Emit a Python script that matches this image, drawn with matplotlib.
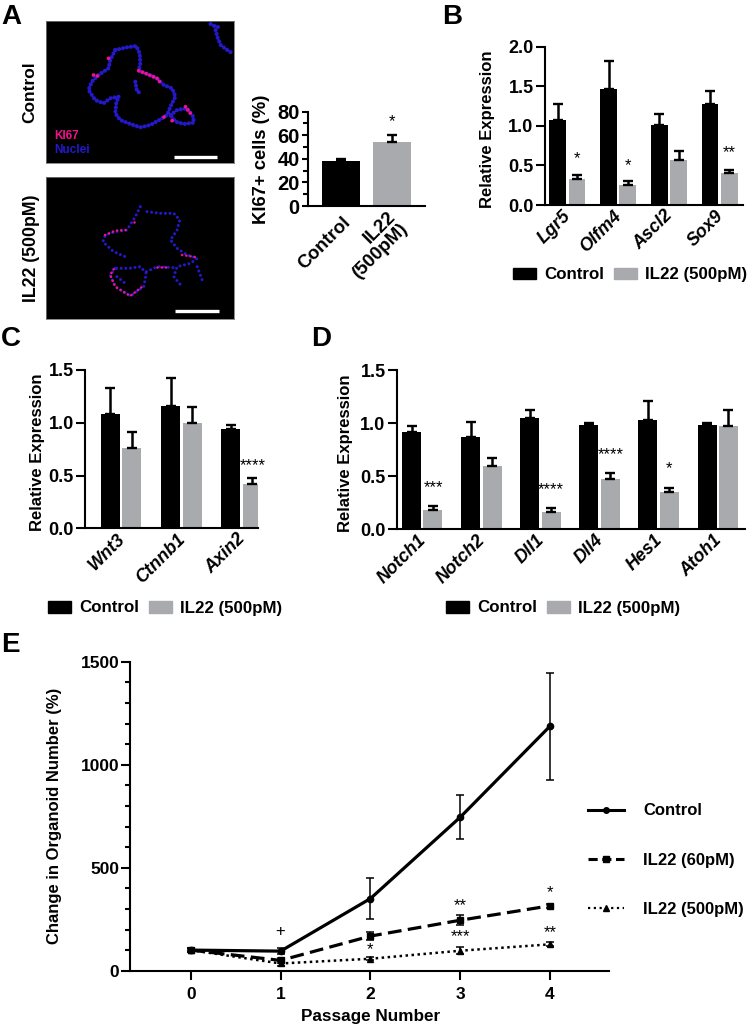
import matplotlib
matplotlib.use('Agg')
import matplotlib.pyplot as plt
from matplotlib.patches import Rectangle
from matplotlib.lines import Line2D
from matplotlib.transforms import ScaledTranslation

W, H = 748, 1028
BLACK = '#000000'
GREY = '#a9aaad'
BLUE = '#2418c8'
PINK = '#f0128c'

plt.rcParams['font.family'] = ['Liberation Sans', 'DejaVu Sans']
plt.rcParams['font.weight'] = 'bold'
plt.rcParams['font.size'] = 12
plt.rcParams['axes.labelweight'] = 'bold'

# panel A bars
a_labels = ['Control', 'IL22\n(500pM)']
a_means = [38, 54]
a_tops = [40, 60]

# panel B
b_genes = ['Lgr5', 'Olfm4', 'Ascl2', 'Sox9']
b_ctrl = [1.08, 1.46, 1.01, 1.28]
b_ctrl_top = [1.27, 1.82, 1.15, 1.44]
b_il22 = [0.33, 0.25, 0.57, 0.40]
b_il22_top = [0.38, 0.30, 0.68, 0.44]
b_stars = ['*', '*', '', '**']
b_star_y = [0.58, 0.50, 0, 0.66]

# panel C
c_genes = ['Wnt3', 'Ctnnb1', 'Axin2']
c_ctrl = [1.08, 1.16, 0.94]
c_ctrl_top = [1.33, 1.42, 0.98]
c_il22 = [0.76, 1.00, 0.42]
c_il22_top = [0.91, 1.15, 0.48]
c_stars = ['', '', '****']
c_star_y = [0, 0, 0.595]

# panel D
d_genes = ['Notch1', 'Notch2', 'Dll1', 'Dll4', 'Hes1', 'Atoh1']
d_ctrl = [0.92, 0.87, 1.05, 0.98, 1.03, 0.98]
d_ctrl_top = [0.97, 1.01, 1.13, 1.00, 1.21, 1.00]
d_il22 = [0.18, 0.60, 0.16, 0.47, 0.35, 0.97]
d_il22_top = [0.22, 0.67, 0.20, 0.53, 0.39, 1.13]
d_stars = ['***', '', '****', '****', '*', '']
d_star_y = [0.39, 0, 0.375, 0.70, 0.57, 0]

# panel E
passages = [0, 1, 2, 3, 4]
e_ctrl = [100, 95, 350, 745, 1187]
e_ctrl_lo = [95, 80, 253, 640, 925]
e_ctrl_hi = [105, 110, 450, 855, 1445]
e_60 = [100, 50, 168, 245, 315]
e_60_lo = [92, 38, 148, 222, 305]
e_60_hi = [108, 62, 188, 268, 325]
e_500 = [100, 35, 58, 97, 128]
e_500_lo = [92, 22, 50, 80, 118]
e_500_hi = [108, 48, 66, 114, 138]
e_marks = ['+', '*', '**', '***', '*', '**']
e_mark_x = [1, 2, 3, 3, 4, 4]
e_mark_y = [188, 104, 318, 164, 381, 183]

# microscopy outlines, in 3x crop pixels of the image
ctrl_blue = [
    [(345, 150), (380, 142), (408, 138), (418, 160), (420, 190), (415, 212), (440, 222), (470, 235), (490, 255),
     (515, 265), (525, 290), (510, 320), (500, 345), (480, 358), (450, 375), (420, 382), (390, 372), (360, 360),
     (345, 340), (348, 310), (355, 290)],
    [(345, 150), (330, 180), (325, 205), (295, 225), (275, 245), (265, 270), (285, 300), (310, 310), (330, 295),
     (355, 290)],
    [(510, 345), (530, 330), (560, 325), (578, 350), (580, 368), (550, 372), (525, 365), (510, 345)],
    [(405, 245), (410, 275), (425, 280)],
    [(630, 72), (645, 80), (660, 82)],
    [(645, 90), (650, 110), (660, 135), (680, 150), (695, 160)],
]
ctrl_pink = [
    [(415, 212), (440, 222), (470, 235), (480, 248)],
    [(280, 225), (300, 230)],
    [(325, 175), (335, 180)],
    [(555, 320), (565, 335), (575, 345)],
    [(490, 352), (500, 352)],
    [(515, 362), (518, 365)],
]
il22_blue = [
    [(420, 620), (405, 650), (380, 690), (345, 695), (315, 705), (308, 725), (340, 755), (375, 770)],
    [(440, 635), (480, 640), (520, 640), (538, 660), (530, 690), (510, 720), (530, 745), (560, 765), (590, 775),
     (570, 790), (530, 800), (520, 830), (545, 860)],
    [(590, 800), (605, 840)],
    [(345, 805), (330, 825), (345, 860), (390, 888), (430, 860), (438, 820), (420, 800), (385, 805), (345, 805)],
    [(438, 815), (470, 800), (520, 803)],
    [(350, 830), (375, 850)],
]
il22_pink = [
    [(315, 705), (345, 692), (380, 690)],
    [(340, 808), (330, 825), (345, 860), (390, 888), (432, 855)],
    [(545, 765), (590, 772)],
    [(470, 802), (500, 802)],
    [(400, 665), (403, 665)],
]


def add_ax(left, top, right, bottom):
    return fig.add_axes([left / W, 1 - bottom / H, (right - left) / W, (bottom - top) / H])


def style(ax, labelsize=13):
    ax.patch.set_alpha(0)
    for s in ['top', 'right']:
        ax.spines[s].set_visible(False)
    for s in ['left', 'bottom']:
        ax.spines[s].set_linewidth(1.5)
    ax.tick_params(axis='both', width=1.5, length=6.5, pad=1.5, labelsize=labelsize)
    ax.tick_params(axis='y', which='minor', width=1.5, length=3.5)


def shift_labels(ax, px):
    for lbl in ax.get_xticklabels():
        lbl.set_transform(lbl.get_transform() + ScaledTranslation(px / 100, 0, fig.dpi_scale_trans))


def grouped(left, top, right, bottom, first, pitch, bw, genes, ctrl, ctrl_top, il22, il22_top, stars, star_y, ymax,
            step, label_x):
    # first = pixel centre of group 0, pitch = pixels between groups
    ax = add_ax(left, top, right, bottom)
    style(ax)
    w = bw / pitch
    off = (bw + 2.4) / pitch / 2
    xs = list(range(len(genes)))
    ax.bar([x - off for x in xs], ctrl, w, color=BLACK)
    ax.bar([x + off for x in xs], il22, w, color=GREY)
    for x, m, t in zip([x - off for x in xs] + [x + off for x in xs], ctrl + il22, ctrl_top + il22_top):
        ax.errorbar(x, m, yerr=[[0], [t - m]], color=BLACK, capsize=3.4, capthick=1.7, elinewidth=1.8)
    for x, s, y in zip(xs, stars, star_y):
        if s:
            ax.text(x + off, y, s, ha='center', va='center', fontsize=12, fontweight='normal')
    ax.set_xlim((left - first) / pitch, (right - first) / pitch)
    ax.set_ylim(0, ymax)
    ax.set_yticks([i * step for i in range(int(ymax / step) + 1)])
    ax.set_yticklabels(['%.1f' % (i * step) for i in range(int(ymax / step) + 1)])
    ax.set_xticks(xs)
    ax.set_xticklabels(genes, rotation=45, ha='right', va='center', rotation_mode='anchor', style='italic')
    ax.tick_params(axis='x', length=0, pad=6)
    shift_labels(ax, 1)
    ax.set_ylabel('Relative Expression')
    ax.yaxis.set_label_coords((label_x - left) / (right - left), 0.48)
    return ax


def bar_legend(x, y):
    # x, y = pixel position of the left middle of the legend
    handles = [Rectangle((0, 0), 1, 1, color=BLACK), Rectangle((0, 0), 1, 1, color=GREY)]
    fig.legend(handles, ['Control', 'IL22 (500pM)'], loc='center left', bbox_to_anchor=(x / W, 1 - y / H), ncol=2,
               frameon=False, handlelength=1.35, handleheight=0.7, handletextpad=0.5, columnspacing=0.55,
               borderpad=0, borderaxespad=0, fontsize=12.2)


def micrograph(top, bottom, blue, pink, bar_x, bar_y, lw, gap):
    ax = add_ax(46, top, 234, bottom)
    ax.set_facecolor('black')
    ax.set_xlim(138, 700)
    ax.set_ylim(3 * bottom, 3 * top)
    ax.set_xticks([])
    ax.set_yticks([])
    for s in ax.spines.values():
        s.set_color('#777777')
        s.set_linewidth(0.6)
    for seg in blue:
        ax.plot([p[0] for p in seg], [p[1] for p in seg], color=BLUE, lw=lw, ls=(0, (0.01, gap)),
                dash_capstyle='round')
    for seg in pink:
        ax.plot([p[0] for p in seg], [p[1] for p in seg], color=PINK, lw=lw - 0.3, ls=(0, (0.01, gap + 0.1)),
                dash_capstyle='round')
    ax.plot(bar_x, [bar_y, bar_y], color='white', lw=2.4, solid_capstyle='butt')
    return ax


fig = plt.figure(figsize=(W / 100, H / 100), dpi=100)

# A
ax = micrograph(21, 163, ctrl_blue, ctrl_pink, [520, 650], 471, 3.0, 0.95)
ax.text(163, 408, 'KI67', color=PINK, fontsize=8.5, va='center')
ax.text(163, 451, 'Nuclei', color=BLUE, fontsize=8.5, va='center')
micrograph(177, 319, il22_blue, il22_pink, [525, 655], 933, 2.2, 1.5)
fig.text(30 / W, 1 - 92 / H, 'Control', rotation=90, ha='center', va='center', fontsize=12.5)
fig.text(32 / W, 1 - 248 / H, 'IL22 (500pM)', rotation=90, ha='center', va='center', fontsize=12.8)

ax = add_ax(307.5, 111.7, 425, 206)
style(ax, 14.5)
ax.tick_params(axis='y', which='major', length=4.5, pad=1)
ax.bar([0, 1], a_means, 38 / 51, color=[BLACK, GREY])
for i in range(2):
    ax.errorbar(i, a_means[i], yerr=[[0], [a_tops[i] - a_means[i]]], color=BLACK, capsize=3.8, capthick=1.7,
                elinewidth=1.8)
ax.text(1, 72, '*', ha='center', va='center', fontsize=12, fontweight='normal')
ax.set_xlim((307.5 - 341) / 51, (425 - 341) / 51)
ax.set_ylim(0, 80)
ax.set_yticks([0, 20, 40, 60, 80])
ax.set_yticks([10, 30, 50, 70], minor=True)
ax.set_xticks([0, 1])
ax.set_xticklabels(a_labels, rotation=45, ha='right', va='center', rotation_mode='anchor', linespacing=1.0,
                   fontsize=13.5)
ax.tick_params(axis='x', length=0, pad=10)
shift_labels(ax, 7)
ax.set_ylabel('KI67+ cells (%)', fontsize=13.3)
ax.yaxis.set_label_coords((270 - 307.5) / (425 - 307.5), 0.49)

# B, C, D
grouped(544.7, 46.7, 743, 205, 567.3, 50.8, 16.8, b_genes, b_ctrl, b_ctrl_top, b_il22, b_il22_top, b_stars, b_star_y,
        2.0, 0.5, 495)
bar_legend(513, 275)
grouped(85, 370, 257.7, 528.3, 121.2, 60.2, 19, c_genes, c_ctrl, c_ctrl_top, c_il22, c_il22_top, c_stars, c_star_y,
        1.5, 0.5, 45)
bar_legend(48, 608)
grouped(396.7, 370.3, 745, 529.3, 422.3, 59.1, 19, d_genes, d_ctrl, d_ctrl_top, d_il22, d_il22_top, d_stars, d_star_y,
        1.5, 0.5, 353)
bar_legend(446, 608)

# E
left, right = 130.4, 609
x0, xstep = 190.8, 89.8
ax = add_ax(left, 661.7, right, 970.7)
style(ax, 12.5)
ax.errorbar(passages, e_ctrl, yerr=[[m - l for m, l in zip(e_ctrl, e_ctrl_lo)], [h - m for m, h in zip(e_ctrl, e_ctrl_hi)]],
            color=BLACK, lw=2.3, marker='o', ms=4.5, elinewidth=1.1, capsize=2.6, capthick=1.1)
ax.errorbar(passages, e_60, yerr=[[m - l for m, l in zip(e_60, e_60_lo)], [h - m for m, h in zip(e_60, e_60_hi)]],
            color=BLACK, lw=2.3, ls=(0, (4.3, 2)), marker='s', ms=5, elinewidth=1.1, capsize=2.6, capthick=1.1)
ax.errorbar(passages, e_500, yerr=[[m - l for m, l in zip(e_500, e_500_lo)], [h - m for m, h in zip(e_500, e_500_hi)]],
            color=BLACK, lw=1.8, ls=(0, (1, 1.4)), marker='^', ms=4.5, elinewidth=1.1, capsize=2.6, capthick=1.1)
ax.set_xlim((left - x0) / xstep, (right - x0) / xstep)
ax.set_ylim(0, 1500)
ax.set_yticks([0, 500, 1000, 1500])
ax.set_yticks([v for v in range(0, 1500, 100) if v % 500 != 0], minor=True)
ax.set_xticks(passages)
ax.tick_params(axis='x', pad=5)
ax.set_ylabel('Change in Organoid Number (%)')
ax.yaxis.set_label_coords((62 - left) / (right - left), 0.5)
ax.set_xlabel('Passage Number', fontsize=12.3)
ax.xaxis.set_label_coords((371 - left) / (right - left), -0.125)
for x, y, s in zip(e_mark_x, e_mark_y, e_marks):
    ax.text(x, y, s, ha='center', va='center', fontsize=12, fontweight='normal')

e_handles = [Line2D([], [], color=BLACK, lw=2.2, marker='o', ms=4),
             Line2D([], [], color=BLACK, lw=2.2, ls=(0, (3, 1.5)), marker='s', ms=4),
             Line2D([], [], color=BLACK, lw=1.6, ls=(0, (1, 1.6)), marker='^', ms=4)]
fig.legend(e_handles, ['Control', 'IL22 (60pM)', 'IL22 (500pM)'], loc='center left',
           bbox_to_anchor=(588 / W, 1 - 860 / H), frameon=False, handlelength=2.15, handletextpad=1.15,
           labelspacing=2.05, fontsize=12, borderpad=0, borderaxespad=0)

# panel letters
for s, x, y in [('A', 1, 17), ('B', 442, 17), ('C', 1, 339), ('D', 311, 339), ('E', 1, 645)]:
    fig.text(x / W, 1 - y / H, s, fontsize=20, fontweight='bold', va='center', ha='left')

fig.savefig('out.png', dpi=100)
